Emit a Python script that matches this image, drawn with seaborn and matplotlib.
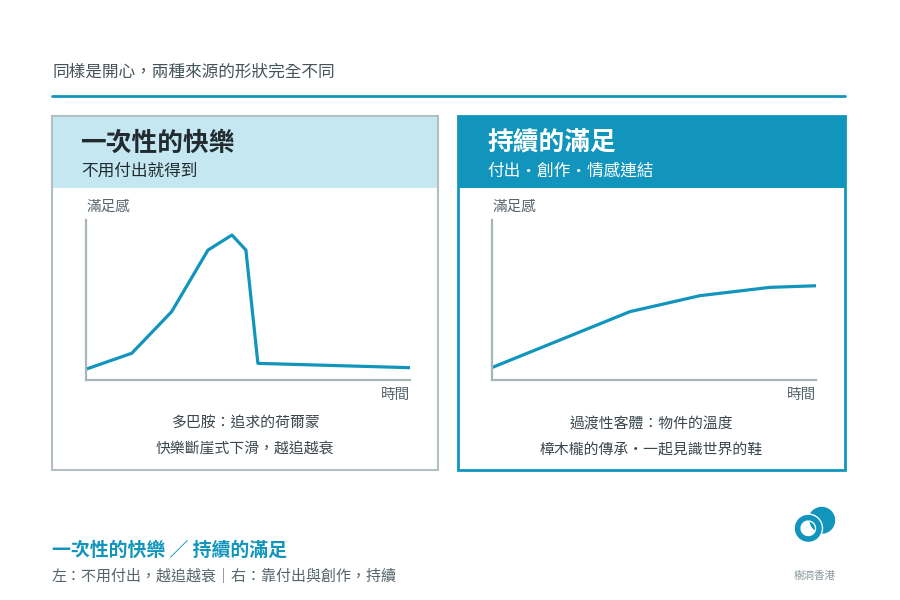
import matplotlib
matplotlib.use("Agg")
import matplotlib.pyplot as plt
from matplotlib.patches import Rectangle, Circle, Wedge
import seaborn as sns
import pandas as pd

# ---- data ----
title_text = "同樣是開心，兩種來源的形狀完全不同"
left_title = "一次性的快樂"
left_sub = "不用付出就得到"
right_title = "持續的滿足"
right_sub = "付出・創作・情感連結"
y_label = "滿足感"
x_label = "時間"
left_caption = ["多巴胺：追求的荷爾蒙", "快樂斷崖式下滑，越追越衰"]
right_caption = ["過渡性客體：物件的溫度", "樟木櫳的傳承・一起見識世界的鞋"]
footer_title = "一次性的快樂 ／ 持續的滿足"
footer_sub = "左：不用付出，越追越衰｜右：靠付出與創作，持續"
brand = "樹洞香港"

left_time = [0.0, 1.42, 2.65, 3.77, 4.51, 4.94, 5.31, 10.0]
left_sat = [0.67, 1.67, 4.27, 8.12, 9.06, 8.12, 1.04, 0.77]
right_time = [0.0, 4.26, 6.42, 8.58, 10.0]
right_sat = [0.77, 4.27, 5.27, 5.79, 5.89]

# ---- style ----
sns.set_theme(style="white")
plt.rcParams['font.family'] = ['Noto Sans CJK TC', 'DejaVu Sans']

TEAL = "#1195bd"
LIGHT = "#c4e7f1"
GRAY_BORDER = "#b3bec2"
AXIS_GRAY = "#aab5b8"
TXT_DARK = "#222b30"
TXT_GRAY = "#56656c"

W, H = 900, 600
fig = plt.figure(figsize=(9, 6), dpi=100)
fig.patch.set_facecolor("white")


def fx(x):
    return x / W


def fy(y):
    return 1 - y / H


def rect(x0, y0, x1, y1, **kw):
    r = Rectangle((fx(x0), fy(y1)), fx(x1) - fx(x0), fy(y0) - fy(y1),
                  transform=fig.transFigure, zorder=0, **kw)
    fig.patches.append(r)


# top title and rule
fig.text(fx(52), fy(72), title_text, fontsize=12, color="#45545b", va="center", ha="left")
fig.add_artist(plt.Line2D([fx(52), fx(845)], [fy(95.5), fy(95.5)], color=TEAL, lw=2,
                          transform=fig.transFigure))

# panels
rect(52, 116, 438, 470, facecolor="white", edgecolor=GRAY_BORDER, lw=1.5)
rect(53, 117, 437, 188, facecolor=LIGHT, edgecolor="none")
rect(458, 116, 845, 470, facecolor="white", edgecolor=TEAL, lw=2)
rect(458, 116, 845, 188, facecolor=TEAL, edgecolor="none")

fig.text(fx(80), fy(143), left_title, fontsize=18.5, fontweight="bold", color=TXT_DARK,
         va="center", ha="left")
fig.text(fx(81), fy(171), left_sub, fontsize=12, color=TXT_DARK, va="center", ha="left")
fig.text(fx(487), fy(143), right_title, fontsize=18.5, fontweight="bold", color="white",
         va="center", ha="left")
fig.text(fx(487), fy(171), right_sub, fontsize=12, color="white", va="center", ha="left")


def chart(x0, x1, xs, ys):
    ax = fig.add_axes([fx(x0), fy(380), fx(x1) - fx(x0), (380 - 220) / H])
    ax.set_zorder(3)
    df = pd.DataFrame({"t": xs, "s": ys})
    sns.lineplot(data=df, x="t", y="s", ax=ax, color=TEAL, linewidth=2.3,
                 estimator=None, sort=False)
    ax.set_xlim(0, 10)
    ax.set_ylim(0, 10)
    ax.patch.set_visible(False)
    ax.set_xticks([])
    ax.set_yticks([])
    ax.set_xlabel("")
    ax.set_ylabel("")
    for s in ["top", "right"]:
        ax.spines[s].set_visible(False)
    for s in ["left", "bottom"]:
        ax.spines[s].set_visible(True)
        ax.spines[s].set_color(AXIS_GRAY)
        ax.spines[s].set_linewidth(1.6)
    fig.text(fx(x0 + 1), fy(207), y_label, fontsize=10.5, color=TXT_GRAY, va="center", ha="left")
    fig.text(fx(x1), fy(395), x_label, fontsize=10.5, color=TXT_GRAY, va="center", ha="right")
    return ax


chart(85.7, 410, left_time, left_sat)
chart(491.7, 816, right_time, right_sat)

# captions
for i, line in enumerate(left_caption):
    fig.text(fx(245), fy(424 + 25 * i), line, fontsize=10.7, color="#3a474d", va="center", ha="center")
for i, line in enumerate(right_caption):
    fig.text(fx(651.5), fy(424 + 25 * i), line, fontsize=10.7, color="#3a474d", va="center", ha="center")

# footer
fig.text(fx(52), fy(550), footer_title, fontsize=13.6, fontweight="bold", color=TEAL,
         va="center", ha="left")
fig.text(fx(52), fy(576), footer_sub, fontsize=10.8, color=TXT_GRAY, va="center", ha="left")

# logo
lax = fig.add_axes([fx(790), fy(550), fx(850) - fx(790), 46 / H])
lax.set_zorder(3)
lax.set_xlim(790, 850)
lax.set_ylim(550, 504)
lax.set_aspect("equal")
lax.axis("off")
fc = (821.7, 520.3)
rc = (808.3, 528.3)
lax.add_patch(Circle(fc, 13.5, facecolor=TEAL, edgecolor="none"))
# ring with white outline, white interior
lax.add_patch(Circle(rc, 13.5, facecolor="white", edgecolor="white", lw=2.0))
lax.add_patch(Wedge(rc, 13.5, 0, 360, width=5.6, facecolor=TEAL, edgecolor="none"))
# piece of filled circle seen inside ring (lens), with white gap
inner = Circle(rc, 6.6, transform=lax.transData)
lens = Circle(fc, 12.2, facecolor=TEAL, edgecolor="none")
lax.add_patch(lens)
lens.set_clip_path(inner)

fig.text(fx(815), fy(576), brand, fontsize=7.6, color="#8a979c", va="center", ha="center")

fig.savefig("out.png", dpi=100, facecolor="white")
